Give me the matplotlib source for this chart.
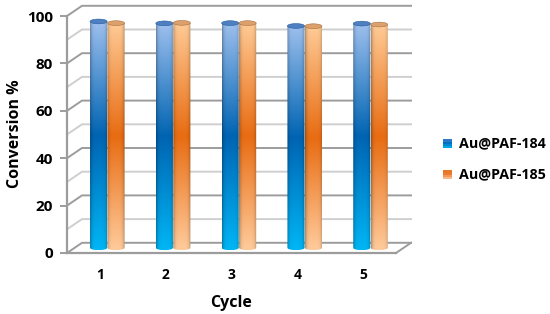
import numpy as np
import matplotlib
matplotlib.use("Agg")
import matplotlib.pyplot as plt
from matplotlib.patches import Ellipse, Rectangle, PathPatch
from matplotlib.path import Path
from matplotlib.legend_handler import HandlerBase

plt.rcParams['font.family'] = ['Open Sans', 'DejaVu Sans']
plt.rcParams['font.weight'] = 'bold'

cycles = [1, 2, 3, 4, 5]
au_184 = [95.5, 94.7, 94.8, 93.6, 94.6]
au_185 = [94.8, 94.9, 94.8, 93.5, 94.2]
series_names = ['Au@PAF-184', 'Au@PAF-185']
y_ticks = [0, 20, 40, 60, 80, 100]

W, H = 550, 314
fig = plt.figure(figsize=(W / 100, H / 100), dpi=100, facecolor='white')
ax = fig.add_axes([67 / W, 1 - 253 / H, 329 / W, 237 / H])
ax.set_xlim(0.5, 5.5)
ax.set_ylim(0, 100)
ax.patch.set_alpha(0)

DX = 15 / 65.8
DY = 10.2 / 2.37
GRID_DARK = '#9c9c9c'
GRID_LIGHT = '#cfcfcf'

# walls / grid
for v in range(0, 101, 10):
    c = GRID_DARK if v % 20 == 0 else GRID_LIGHT
    ax.plot([0.5, 0.5 + DX, 5.5 + DX], [v, v + DY, v + DY], color=c, lw=1.4,
            clip_on=False, zorder=1, solid_joinstyle='miter')
ax.plot([5.5, 5.5 + DX], [0, DY], color=GRID_DARK, lw=1.4, clip_on=False, zorder=1)

for s in ['top', 'right']:
    ax.spines[s].set_visible(False)
for s in ['left', 'bottom']:
    ax.spines[s].set_color(GRID_DARK)
    ax.spines[s].set_linewidth(1.6)
ax.set_yticks(y_ticks)
ax.set_xticks(cycles)
ax.tick_params(axis='y', length=5, width=1.4, color=GRID_DARK, labelsize=11, pad=5)
ax.tick_params(axis='x', length=0, labelsize=10, pad=11)
ax.set_xlabel('Cycle', fontsize=11.5, fontweight='bold', labelpad=9)
fig.text(15 / W, 1 - 134 / H, 'Conversion %', rotation=90, fontsize=11.5, fontweight='bold',
         ha='center', va='center')

BLUE = [(0.0, (0, 182, 245)), (0.5, (0, 100, 178)), (1.0, (158, 192, 238))]
ORANGE = [(0.0, (255, 203, 155)), (0.5, (232, 108, 18)), (1.0, (255, 203, 150))]
TOP = {'b': '#4f7fc0', 'o': '#dba06c'}
SIDE = {'b': '#1f5f9e', 'o': '#a8703f'}


def ramp(stops, t):
    xs = [s[0] for s in stops]
    return np.stack([np.interp(t, xs, [s[1][i] for s in stops]) for i in range(3)], -1) / 255


def cylinder(xc, value, width, stops, key):
    base = 2.2
    ry = 1.0
    rows = ramp(stops, np.linspace(1, 0, 160))
    u = np.linspace(-1, 1, 40)
    shade = 1 - 0.30 * np.abs(u) ** 5
    img = rows[:, None, :] * shade[None, :, None]
    x0, x1 = xc - width / 2, xc + width / 2
    top = value + base
    im = ax.imshow(img, extent=[x0, x1, base - ry, top], aspect='auto', zorder=3,
                   interpolation='bilinear')
    t = np.linspace(np.pi, 2 * np.pi, 24)
    vx = np.r_[xc + width / 2 * np.cos(t), x1, x0, x0]
    vy = np.r_[base + ry * np.sin(t), top, top, base]
    im.set_clip_path(PathPatch(Path(np.c_[vx, vy]), transform=ax.transData))
    ax.add_patch(Ellipse((xc, top), width, 2 * ry, facecolor=TOP[key], edgecolor=SIDE[key],
                         lw=0.4, zorder=4))


BAR_W = 0.26
for c, a, b in zip(cycles, au_184, au_185):
    cylinder(c - 0.02, a, BAR_W, BLUE, 'b')
    cylinder(c + 0.245, b, BAR_W, ORANGE, 'o')
ax.set_xlim(0.5, 5.5)
ax.set_ylim(0, 100)


class GradHandler(HandlerBase):
    def __init__(self, colors):
        super().__init__()
        self.colors = colors

    def create_artists(self, legend, orig, xd, yd, w, h, fs, trans):
        n = len(self.colors)
        return [Rectangle((xd, yd + h * i / n), w, h / n + 0.2, facecolor=col, edgecolor='none',
                          transform=trans) for i, col in enumerate(self.colors)]


hb = Rectangle((0, 0), 1, 1)
ho = Rectangle((0, 0), 1, 1)
fig.legend([hb, ho], series_names,
           handler_map={hb: GradHandler(['#00a8e8', '#0088d0', '#0070c0', '#2a78c8']),
                        ho: GradHandler(['#f8b888', '#f09858', '#ec7a30', '#e87828'])},
           loc='center left', bbox_to_anchor=(443 / W, 1 - 159 / H), frameon=False,
           fontsize=10.3, handlelength=0.65, handleheight=0.55, handletextpad=0.45,
           labelspacing=1.2, borderpad=0, borderaxespad=0)

fig.savefig('out.png', dpi=100, facecolor='white')
